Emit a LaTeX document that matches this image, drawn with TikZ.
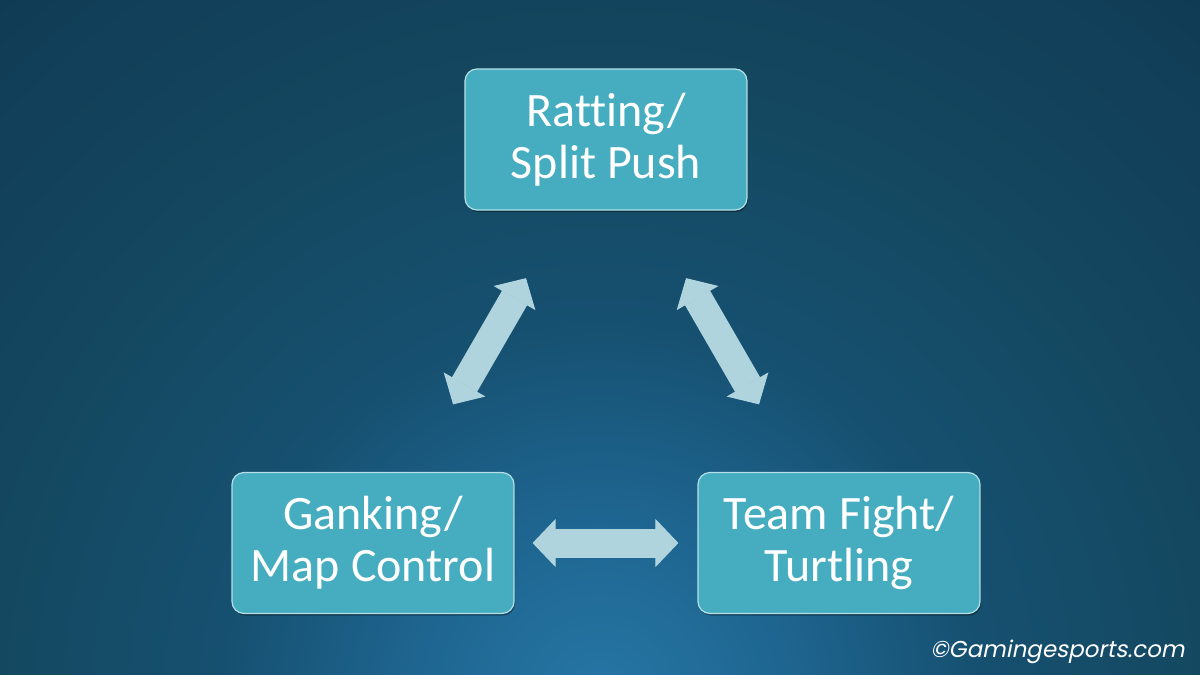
\documentclass[tikz,border=0pt]{standalone}
\usepackage{fontspec}
\setmainfont{Carlito}[Ligatures=NoCommon]
\newfontfamily\wmfont[FakeSlant=0.2]{Poppins}
\usetikzlibrary{arrows.meta,shadows}
\definecolor{bgglow}{HTML}{2676A5}
\definecolor{bgsoft}{HTML}{1E6590}
\definecolor{bginner}{HTML}{165070}
\definecolor{bgmid}{HTML}{144860}
\definecolor{bgouter}{HTML}{12405A}
\definecolor{bgdark}{HTML}{103A54}
\definecolor{boxfill}{HTML}{45ADBF}
\definecolor{boxedge}{HTML}{B5E0E8}
\definecolor{arrowc}{HTML}{AFD4DE}
\pgfdeclareradialshading{bgshade}{\pgfpoint{0bp}{0bp}}{color(0bp)=(bgglow); color(5bp)=(bgsoft); color(10bp)=(bginner); color(16bp)=(bgmid); color(21bp)=(bgouter); color(25bp)=(bgdark); color(50bp)=(bgdark)}

\begin{document}
\begin{tikzpicture}[x=1pt,y=-1pt,
  panel/.style={draw=boxedge, line width=1.2pt, fill=boxfill, rounded corners=12pt,
    minimum width=282pt, minimum height=141pt, inner sep=0pt, text=white, align=center,
    font=\fontsize{48}{52}\selectfont,
    drop shadow={shadow xshift=1pt, shadow yshift=-2pt, opacity=0.35, fill=black}},
  dblarrow/.style={arrowc, line width=29pt,
    {Triangle[width=48pt,length=23pt,line width=1pt]}-{Triangle[width=48pt,length=23pt,line width=1pt]}}]
\useasboundingbox (0,0) rectangle (1200,675);
% background
\fill[bgdark] (0,0) rectangle (1200,675);
\begin{scope}
\clip (0,0) rectangle (1200,675);
\shade[shading=bgshade] (600,700) circle (950);
\end{scope}
% boxes
\node[panel] (rat) at (606,139.5) {Ratting/\\Split Push};
\node[panel] (gank) at (373,543) {Ganking/\\Map Control};
\node[panel] (team) at (839,543) {Team Fight/\\Turtling};
% arrows
\draw[dblarrow, shorten <=78pt, shorten >=78pt] (gank) -- (rat);
\draw[dblarrow, shorten <=78pt, shorten >=78pt] (rat) -- (team);
\draw[dblarrow, shorten <=18pt, shorten >=19pt] (gank) -- (team);
% watermark
\node[anchor=base east, text=white, font=\wmfont\fontsize{23}{23}\selectfont] (mark) at (1188,657) {©Gamingesports.com};
\end{tikzpicture}
\end{document}
